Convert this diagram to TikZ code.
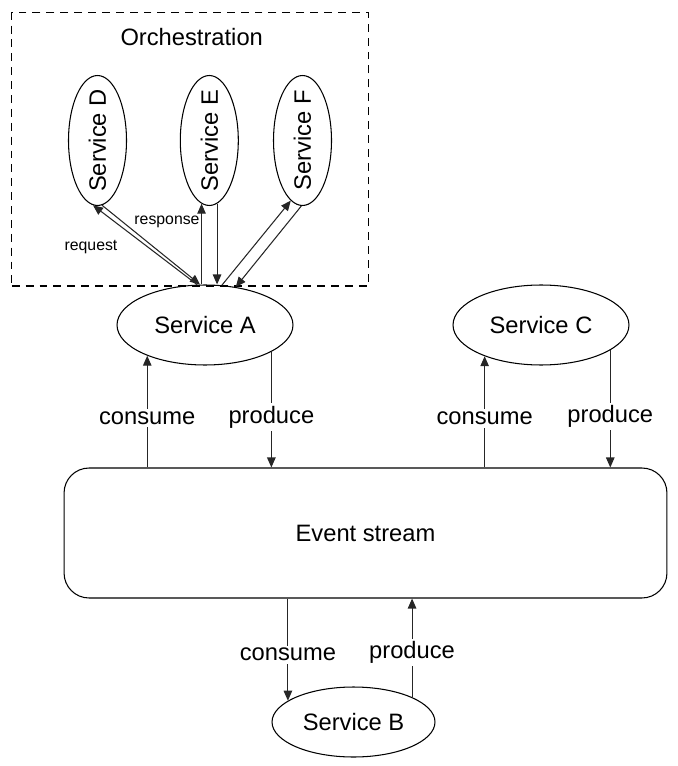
\documentclass[tikz,border=0pt]{standalone}
\usepackage{fontspec}
\setmainfont{Liberation Sans}
\usetikzlibrary{shapes.geometric,arrows.meta}

\begin{document}
\begin{tikzpicture}[
    font=\fontsize{13.5}{16}\selectfont,
    line width=0.6pt,
    svc/.style={draw,ellipse,inner sep=1pt},
    orchbox/.style={draw,dash pattern=on 4.5pt off 3.4pt,minimum width=7.13cm,minimum height=5.47cm},
    stream/.style={draw,rounded corners=0.5cm,minimum width=12.06cm,minimum height=2.6cm},
    arr/.style={-{Triangle[length=2mm,width=1.7mm]},black!85},
    lbl/.style={fill=white,inner sep=1.5pt,text=black},
    small/.style={font=\fontsize{9}{11}\selectfont}]
  \begin{scope}[x=0.02cm,y=-0.02cm]
    \useasboundingbox (0,0) rectangle (678,766);

    \node[orchbox] (orch) at (190,149.3) {};
    \node (orchtitle) at (191.7,36.7) {Orchestration};

    \node[svc,minimum width=1.16cm,minimum height=2.6cm,label={[rotate=90]center:Service D}] (d) at (97.5,140.5) {};
    \node[svc,minimum width=1.16cm,minimum height=2.6cm,label={[rotate=90]center:Service E}] (e) at (209.3,140.5) {};
    \node[svc,minimum width=1.16cm,minimum height=2.6cm,label={[rotate=90]center:Service F}] (f) at (302.5,140.5) {};

    \node[svc,minimum width=3.52cm,minimum height=1.6cm] (a) at (205,325) {Service A};
    \node[svc,minimum width=3.52cm,minimum height=1.6cm] (c) at (541,325) {Service C};
    \node[stream] (es) at (365.5,533) {Event stream};
    \node[svc,minimum width=3.26cm,minimum height=1.4cm] (b) at (353.5,722) {Service B};

    \draw[arr] (a.101) -- (d.266);
    \draw[arr] (d.274) -- (a.97);
    \draw[arr] (a.north -| e.263) -- (e.263);
    \draw[arr] (e.277) -- (a.north -| e.277);
    \draw[arr] (a.67) -- (f.259);
    \draw[arr] (f.269) -- (a.51);
    \node[small] (req) at (91,247) {request};
    \node[small] (resp) at (167,222) {response};

    \draw[arr] (es.north -| a.208) -- (a.208) node[lbl,pos=0.44] {consume};
    \draw[arr] (a.338) -- (es.north -| a.338) node[lbl,pos=0.565] {produce};
    \draw[arr] (es.north -| c.209.6) -- (c.209.6) node[lbl,pos=0.44] {consume};
    \draw[arr] (c.340.2) -- (es.north -| c.340.2) node[lbl,pos=0.565] {produce};

    \draw[arr] (es.south -| b.162.4) -- (b.162.4) node[lbl,pos=0.55] {consume};
    \draw[arr] (b.23.3) -- (es.south -| b.23.3) node[lbl,pos=0.45] {produce};
  \end{scope}
\end{tikzpicture}
\end{document}
